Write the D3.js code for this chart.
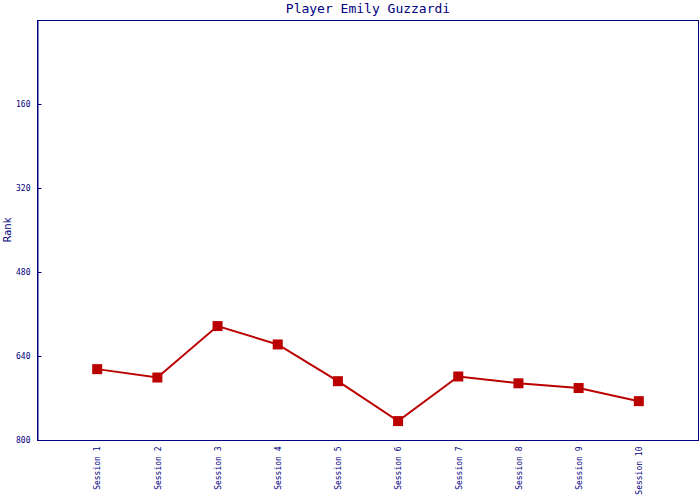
<!DOCTYPE html>
<html><head><meta charset="utf-8">
<script src="https://cdn.jsdelivr.net/npm/d3@7"></script>
<style>body{margin:0;background:#fff}svg{display:block}</style>
</head><body>
<script>
const sessions = ["Session 1","Session 2","Session 3","Session 4","Session 5","Session 6","Session 7","Session 8","Session 9","Session 10"];
const ranks = [665, 681, 583, 618, 688, 764, 679, 692, 701, 726];
const yTicks = [160, 320, 480, 640, 800];
const title = "Player Emily Guzzardi";
const yLabel = "Rank";

const W = 700, H = 500;
const m = {left: 37, right: 1, top: 20, bottom: 60};
const navy = "#000080", red = "#bb0000";
const font = "'DejaVu Sans Mono', 'Liberation Mono', monospace";

const svg = d3.select("body").append("svg").attr("width", W).attr("height", H);

const x = d3.scalePoint().domain(sessions).range([m.left, W - m.right]).padding(1);
const y = d3.scaleLinear().domain([0, 800]).range([m.top, H - m.bottom]);

// frame
svg.append("rect").attr("x", m.left + 0.5).attr("y", m.top + 0.5)
  .attr("width", W - m.right - m.left - 1).attr("height", H - m.bottom - m.top)
  .attr("fill", "none").attr("stroke", navy).attr("stroke-width", 1);

// y axis
const ya = svg.append("g").attr("transform", `translate(${m.left + 0.5},0)`)
  .call(d3.axisRight(y).tickValues(yTicks).tickSize(4).tickPadding(-18).tickFormat(d3.format("d")));
ya.select(".domain").attr("stroke", navy);
ya.selectAll(".tick line").attr("stroke", navy);
ya.selectAll(".tick text").attr("fill", navy).attr("font-family", font).attr("font-size", 8)
  .attr("text-anchor", "end").attr("x", -7);

// x axis
const xa = svg.append("g").attr("transform", `translate(0,${H - m.bottom + 0.5})`)
  .call(d3.axisBottom(x).tickSize(0));
xa.select(".domain").remove();
xa.selectAll(".tick text").attr("fill", navy).attr("font-family", font).attr("font-size", 8)
  .attr("transform", "rotate(-90)").attr("text-anchor", "end").attr("x", -6).attr("y", 0)
  .attr("dy", "0.35em");

// line
svg.append("path").datum(ranks)
  .attr("d", d3.line().x((d, i) => x(sessions[i])).y(d => y(d)))
  .attr("fill", "none").attr("stroke", red).attr("stroke-width", 2);

// markers
svg.selectAll("rect.pt").data(ranks).join("rect").attr("class", "pt")
  .attr("x", (d, i) => x(sessions[i]) - 5).attr("y", d => y(d) - 5)
  .attr("width", 10).attr("height", 10).attr("fill", red);

// title
svg.append("text").attr("x", (m.left + W - m.right) / 2).attr("y", 13)
  .attr("text-anchor", "middle").attr("fill", navy).attr("font-family", font)
  .attr("font-size", 13).text(title);

// y label
svg.append("text").attr("transform", `translate(11,${(m.top + H - m.bottom) / 2}) rotate(-90)`)
  .attr("text-anchor", "middle").attr("fill", navy).attr("font-family", "'DejaVu Sans', sans-serif")
  .attr("font-size", 10).text(yLabel);
</script>
</body></html>
